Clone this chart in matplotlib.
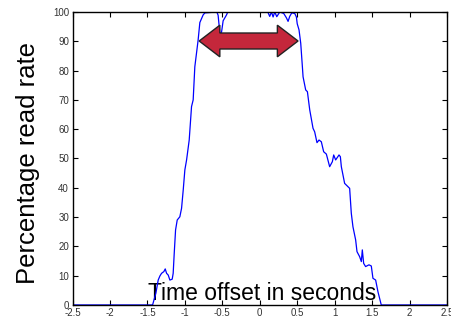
import matplotlib
matplotlib.use("Agg")
import matplotlib.pyplot as plt
from matplotlib.patches import Polygon

plt.rcParams['font.family'] = ['Liberation Sans', 'DejaVu Sans']

# read-rate curve
time_s = [-2.5, -1.431, -1.387, -1.356, -1.333, -1.311, -1.28, -1.262, -1.244, -1.222,
          -1.2, -1.169, -1.156, -1.142, -1.124, -1.102, -1.067, -1.044, -1.022, -1.0,
          -0.977, -0.942, -0.911, -0.889, -0.867, -0.823, -0.8, -0.756, -0.733, -0.573,
          -0.556, -0.533, -0.511, -0.489, -0.444, -0.427, 0.107, 0.133, 0.156, 0.178,
          0.2, 0.227, 0.267, 0.32, 0.356, 0.378, 0.4, 0.427, 0.467, 0.489,
          0.5, 0.524, 0.547, 0.569, 0.578, 0.613, 0.636, 0.667, 0.711, 0.733,
          0.764, 0.791, 0.822, 0.853, 0.889, 0.933, 0.969, 0.987, 1.013, 1.058,
          1.076, 1.089, 1.133, 1.2, 1.222, 1.244, 1.28, 1.298, 1.333, 1.356,
          1.369, 1.387, 1.413, 1.458, 1.489, 1.511, 1.547, 1.578, 1.622, 2.5]
read_rate = [0, 0, 4, 8.5, 9.9, 10.8, 11.4, 12.3, 10.8, 10.2,
             8.5, 8.8, 10.8, 17.6, 25.6, 29, 30.1, 33, 39.2, 46.1,
             49.5, 56.3, 67.7, 70, 81.3, 90.4, 96.4, 99, 99.7, 100,
             98.9, 92.8, 93, 97, 99, 100, 100, 98.5, 100, 98.3,
             100, 98.4, 100, 99.5, 98, 96.8, 98.5, 99.7, 99.5, 98.3,
             96, 93.9, 89.3, 81.3, 77.9, 73.4, 72.8, 66.6, 60.3, 59.1,
             55.4, 56.3, 55.7, 52.3, 51.5, 47.2, 48.9, 51.2, 49.5, 51.2,
             50.6, 47.2, 41.5, 39.8, 31.3, 26.7, 22.2, 18.2, 16.5, 14.8,
             18.8, 14.2, 13.1, 13.7, 13.3, 9.1, 8.5, 4.5, 0, 0]

x_ticks = [-2.5, -2, -1.5, -1, -0.5, 0, 0.5, 1, 1.5, 2, 2.5]
x_tick_labels = ['-2.5', '-2', '-1.5', '-1', '-0.5', '0', '0.5', '1', '1.5', '2', '2.5']
y_ticks = [0, 10, 20, 30, 40, 50, 60, 70, 80, 90, 100]

# double arrow marking the plateau
arrow_left, arrow_right, arrow_y = -0.809, 0.511, 90.1
head_len, body_half, head_half = 0.276, 2.73, 5.4

fig = plt.figure(figsize=(4.52, 3.2), dpi=100)
ax = fig.add_axes([0.1604, 0.047, 0.8286, 0.9155])

ax.plot(time_s, read_rate, color='#0000ff', linewidth=0.9)

arrow_pts = [
    (arrow_left, arrow_y),
    (arrow_left + head_len, arrow_y + head_half),
    (arrow_left + head_len, arrow_y + body_half),
    (arrow_right - head_len, arrow_y + body_half),
    (arrow_right - head_len, arrow_y + head_half),
    (arrow_right, arrow_y),
    (arrow_right - head_len, arrow_y - head_half),
    (arrow_right - head_len, arrow_y - body_half),
    (arrow_left + head_len, arrow_y - body_half),
    (arrow_left + head_len, arrow_y - head_half),
]
ax.add_patch(Polygon(arrow_pts, closed=True, facecolor='#c4273b',
                     edgecolor='#222222', linewidth=1.0, zorder=5))

ax.set_xlim(-2.5, 2.5)
ax.set_ylim(0, 100)
ax.set_xticks(x_ticks)
ax.set_xticklabels(x_tick_labels)
ax.set_yticks(y_ticks)
ax.tick_params(direction='in', length=3.5, width=0.8, top=True, right=True,
               labelsize=7, labelcolor='#333333', pad=2.5)
for sp in ax.spines.values():
    sp.set_linewidth(1.0)

ax.set_ylabel('Percentage read rate', fontsize=18.5)
ax.yaxis.set_label_coords(-0.087, 0.485)
ax.set_xlabel('Time offset in seconds', fontsize=16.5)
ax.xaxis.set_label_coords(0.506, 0.017)
ax.xaxis.label.set_verticalalignment('baseline')

plt.savefig('out.png', dpi=100)
